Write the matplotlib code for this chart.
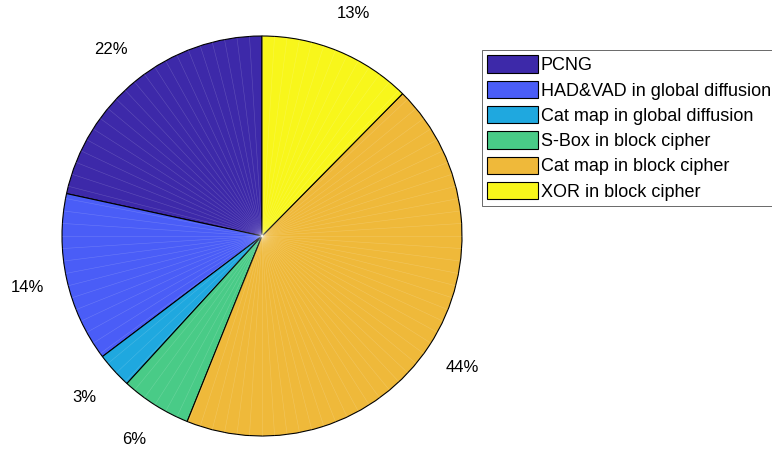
import numpy as np
import matplotlib
matplotlib.use("Agg")
import matplotlib.pyplot as plt

# ============================================
# DATA (percent share of run time)
# ============================================
labels = [
    "PCNG",
    "HAD&VAD in global diffusion",
    "Cat map in global diffusion",
    "S-Box in block cipher",
    "Cat map in block cipher",
    "XOR in block cipher",
]
shares = [21.6, 13.7, 2.9, 5.7, 43.7, 12.4]
pct_text = ["22%", "14%", "3%", "6%", "44%", "13%"]
colors = ["#3d29a9", "#4a5df7", "#1fa8df", "#49cb87", "#efb93a", "#f8f61b"]

plt.rcParams["font.family"] = ["Liberation Sans", "DejaVu Sans"]

# ============================================
# FIGURE
# ============================================
W, H = 772, 450
fig = plt.figure(figsize=(W / 100, H / 100), dpi=100)

# pie centre (262, 236) px, radius 200 px; axes spans +-1.1
cx, cy, R = 262, 236, 200
half = 1.1 * R
ax = fig.add_axes([(cx - half) / W, (H - cy - half) / H, 2 * half / W, 2 * half / H])

wedges, _ = ax.pie(
    shares,
    colors=colors,
    startangle=90,
    counterclock=True,
    radius=1.0,
    wedgeprops=dict(edgecolor="black", linewidth=0.8),
)
# pie() sets its own limits, so set them afterwards
ax.set_xlim(-1.1, 1.1)
ax.set_ylim(-1.1, 1.1)
ax.set_aspect("equal")
ax.axis("off")

# faint seams like the original rendering
for a in np.arange(0, 360, 3.6):
    t = np.deg2rad(90 + a)
    ax.plot([0, np.cos(t)], [0, np.sin(t)], color="white", alpha=0.18,
            lw=0.4, zorder=3)

# percent labels at 1.2 * radius, mid angle
start = 90.0
for s, txt in zip(shares, pct_text):
    mid = np.deg2rad(start + s * 3.6 / 2)
    ax.text(1.2 * np.cos(mid), 1.2 * np.sin(mid), txt, ha="center",
            va="center", fontsize=12, clip_on=False)
    start += s * 3.6

leg = fig.legend(
    wedges, labels,
    loc="upper left",
    bbox_to_anchor=(482 / W, 1 - 50 / H),
    fontsize=13,
    frameon=True,
    fancybox=False,
    edgecolor="#262626",
    handlelength=2.8,
    handleheight=1.1,
    handletextpad=0.15,
    labelspacing=0.36,
    borderpad=0.3,
    borderaxespad=0,
)
leg.get_frame().set_linewidth(0.6)

fig.savefig("out.png", dpi=100)
